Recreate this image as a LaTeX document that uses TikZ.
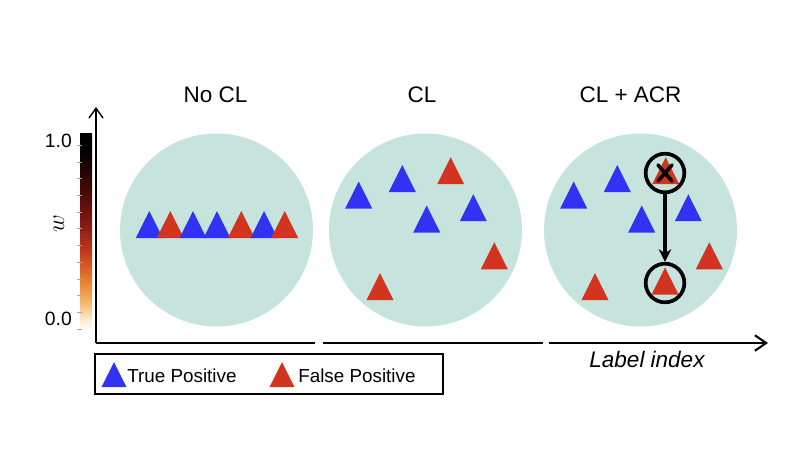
\documentclass[tikz,border=0pt]{standalone}
\usepackage{fontspec}
\setmainfont{Liberation Sans}
\usepackage{tikz}
\usetikzlibrary{arrows.meta}
\usetikzlibrary{calc}

\definecolor{disk}{HTML}{C7E3DD}
\definecolor{tpblue}{HTML}{3232F4}
\definecolor{fpred}{HTML}{D23420}
\definecolor{wpale}{HTML}{FCE6CC}
\definecolor{wlight}{HTML}{F5B66E}
\definecolor{worange}{HTML}{EC8430}
\definecolor{wred}{HTML}{C2391E}
\definecolor{wdark}{HTML}{841915}
\definecolor{wdeep}{HTML}{420806}
\pgfdeclareverticalshading{wbar}{100bp}{color(0bp)=(white); color(25bp)=(white);
  color(28bp)=(wpale); color(32bp)=(wlight); color(37bp)=(worange); color(45bp)=(wred);
  color(52bp)=(wdark); color(61bp)=(wdeep); color(71bp)=(black); color(100bp)=(black)}

\tikzset{
  title/.style={font=\fontsize{16}{19}\selectfont},
  legtext/.style={font=\fontsize{13.4}{16}\selectfont, anchor=west, inner sep=0pt},
  wlabel/.style={font=\fontsize{13.7}{16}\selectfont, anchor=east, inner sep=0pt},
  ring/.style={circle, draw=black, line width=2.6pt, minimum size=27.5pt, inner sep=0pt},
}

\begin{document}
\begin{tikzpicture}[x=0.025cm, y=-0.025cm]
\useasboundingbox (0,0) rectangle (800,450);
% titles
\node[title] (t1) at (215.5,95) {No CL};
\node[title] (t2) at (422,95) {CL};
\node[title] (t3) at (630.5,95) {CL + ACR};
% disks
\foreach \cx in {216.5,425.5,640.5}
  \fill[disk] (\cx,230) circle (96.5);
% no CL: all in one row
\foreach \x/\c in {149.3/tpblue,170.3/fpred,193/tpblue,217/tpblue,241.3/fpred,264/tpblue,284.7/fpred}
  \fill[\c] (\x-13.5,238) -- (\x+13.5,238) -- (\x,211) -- cycle;
% CL, and the same spread again for CL + ACR
\foreach \dx in {0,215} {
\foreach \x/\y/\c in {358.7/195/tpblue,402.3/178.5/tpblue,450.7/170.7/fpred,426.7/219/tpblue,
    473.3/207.7/tpblue,494.3/255.8/fpred,380/286.7/fpred}
  \fill[\c] (\x+\dx-13.5,\y+13.5) -- (\x+\dx+13.5,\y+13.5) -- (\x+\dx,\y-13.5) -- cycle;
}
\fill[fpred] (665-13.5,281+13.5) -- (665+13.5,281+13.5) -- (665,281-13.5) -- cycle;
% relabel arrow
\node[ring] (r1) at (665,173) {};
\node[ring] (r2) at (665,283) {};
\draw[line width=2.6pt, line cap=round] ([shift={(-7,-8)}]r1.center) -- ([shift={(7,8)}]r1.center);
\draw[line width=2.6pt, line cap=round] ([shift={(7,-8)}]r1.center) -- ([shift={(-7,8)}]r1.center);
\draw[line width=2.2pt, -{Stealth[length=9pt,width=9pt]}] (r1.south) -- (r2.north);
% colour bar
\fill[shading=wbar] (80,133) rectangle (92,330);
\foreach \k in {0,...,11}
  \draw[gray!70, line width=0.5pt] (77,329-16.7*\k) -- (81.5,329-16.7*\k);
\node[wlabel] (w1) at (72,141) {1.0};
\node[wlabel] (w0) at (72,319) {0.0};
\node[rotate=90, font=\fontsize{18}{20}\selectfont] (wname) at (59,224) {$w$};
% axes
\coordinate (O) at (96,343);
\coordinate (ytop) at (96,107);
\coordinate (xa) at (315,343);
\coordinate (xb) at (323,343);
\coordinate (xc) at (543,343);
\coordinate (xd) at (549,343);
\coordinate (xend) at (768,343);
\draw[line width=1pt, -{Straight Barb[length=7pt,width=10pt]}] (O) -- (ytop);
\draw[line width=1.5pt] (O) -- (xa);
\draw[line width=1.5pt] (xb) -- (xc);
\draw[line width=1.5pt, -{Straight Barb[length=8pt,width=11pt]}] (xd) -- (xend);
\node[font=\fontsize{16}{19}\selectfont\itshape] (xname) at (647,359) {Label index};
% legend
\node[draw, line width=0.9pt, minimum width=247.5pt, minimum height=28.5pt, inner sep=0pt] (legend) at (269,374) {};
\fill[tpblue] (101.5,387) -- (126.5,387) -- (114,362) -- cycle;
\fill[fpred] (269.5,387) -- (294.5,387) -- (282,362) -- cycle;
\node[legtext] (ltp) at (127,376) {True Positive};
\node[legtext] (lfp) at (298,376) {False Positive};
\end{tikzpicture}
\end{document}
